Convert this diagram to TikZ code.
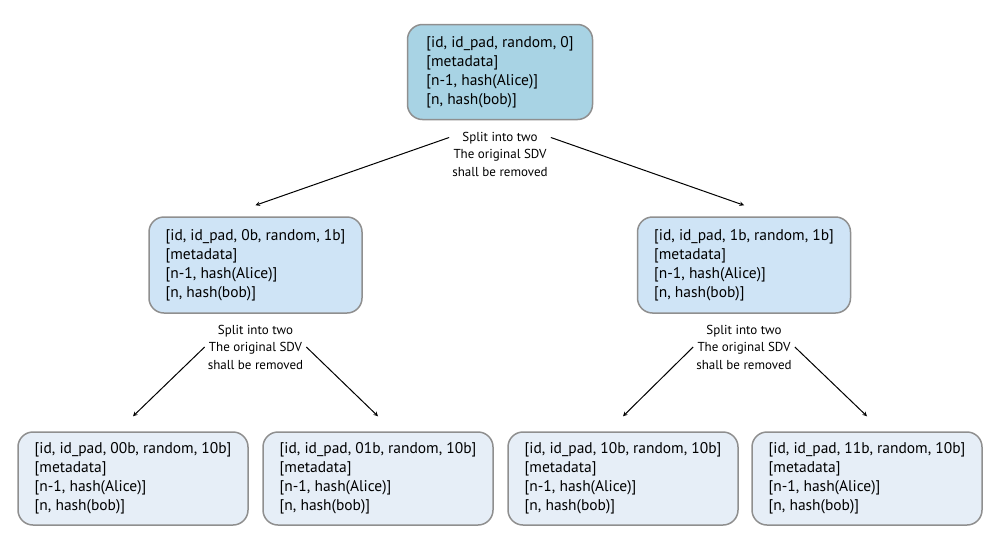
\documentclass[tikz,border=0pt]{standalone}
\usepackage{fontspec}
\setmainfont{PT Sans}
\usetikzlibrary{shapes.geometric, arrows, positioning}
\definecolor{rootblue}{HTML}{A8D3E4}
\definecolor{midblue}{HTML}{CFE4F6}
\definecolor{leafblue}{HTML}{E6EEF7}
\definecolor{boxgray}{HTML}{8F8F8F}
\tikzstyle{sdv} = [rectangle, rounded corners=15pt, draw=boxgray, line width=1.5pt, align=left, font=\fontsize{15.5}{19}\selectfont]
\tikzstyle{rootbox} = [sdv, fill=rootblue, minimum width=185pt, minimum height=95pt]
\tikzstyle{midbox} = [sdv, fill=midblue, minimum width=213pt, minimum height=96pt]
\tikzstyle{leafbox} = [sdv, fill=leafblue, minimum width=230pt, minimum height=93pt]
\tikzstyle{splitnote} = [align=center, inner sep=3pt, font=\fontsize{13}{17.5}\selectfont]
\tikzstyle{arrow} = [line width=1pt, ->, >=stealth]

\begin{document}
\begin{tikzpicture}[x=1pt, y=1pt, node distance=193pt]
          \useasboundingbox (0,0) rectangle (1000,-550);
          \node (root) [rootbox] at (500,-72) {{[id, id\_pad, random, 0]}\\{[metadata]}\\{[n-1, hash(Alice)]}\\{[n, hash(bob)]}};
          \node (ml) [midbox, below of=root, xshift=-244.5pt] {{[id, id\_pad, 0b, random, 1b]}\\{[metadata]}\\{[n-1, hash(Alice)]}\\{[n, hash(bob)]}};
          \node (mr) [midbox, below of=root, xshift=244pt] {{[id, id\_pad, 1b, random, 1b]}\\{[metadata]}\\{[n-1, hash(Alice)]}\\{[n, hash(bob)]}};
          \node (ll) [leafbox, below of=ml, node distance=213.5pt, xshift=-122.5pt] {{[id, id\_pad, 00b, random, 10b]}\\{[metadata]}\\{[n-1, hash(Alice)]}\\{[n, hash(bob)]}};
          \node (lr) [leafbox, below of=ml, node distance=213.5pt, xshift=122.5pt] {{[id, id\_pad, 01b, random, 10b]}\\{[metadata]}\\{[n-1, hash(Alice)]}\\{[n, hash(bob)]}};
          \node (rl) [leafbox, below of=mr, node distance=213.5pt, xshift=-121pt] {{[id, id\_pad, 10b, random, 10b]}\\{[metadata]}\\{[n-1, hash(Alice)]}\\{[n, hash(bob)]}};
          \node (rr) [leafbox, below of=mr, node distance=213.5pt, xshift=123pt] {{[id, id\_pad, 11b, random, 10b]}\\{[metadata]}\\{[n-1, hash(Alice)]}\\{[n, hash(bob)]}};
          \node (splitroot) [splitnote, below of=root, node distance=82pt] {Split into two\\The original SDV\\shall be removed};
          \node (splitml) [splitnote, below of=ml, node distance=82pt] {Split into two\\The original SDV\\shall be removed};
          \node (splitmr) [splitnote, below of=mr, node distance=82pt] {Split into two\\The original SDV\\shall be removed};
          \draw [arrow] (splitroot.162) -- ([yshift=11pt]ml.north);
          \draw [arrow] (splitroot.18) -- ([yshift=11pt]mr.north);
          \draw [arrow] (splitml.west) -- ([yshift=15pt]ll.north);
          \draw [arrow] (splitml.east) -- ([yshift=15pt]lr.north);
          \draw [arrow] (splitmr.west) -- ([yshift=15pt]rl.north);
          \draw [arrow] (splitmr.east) -- ([yshift=15pt]rr.north);
        \end{tikzpicture}
\end{document}
